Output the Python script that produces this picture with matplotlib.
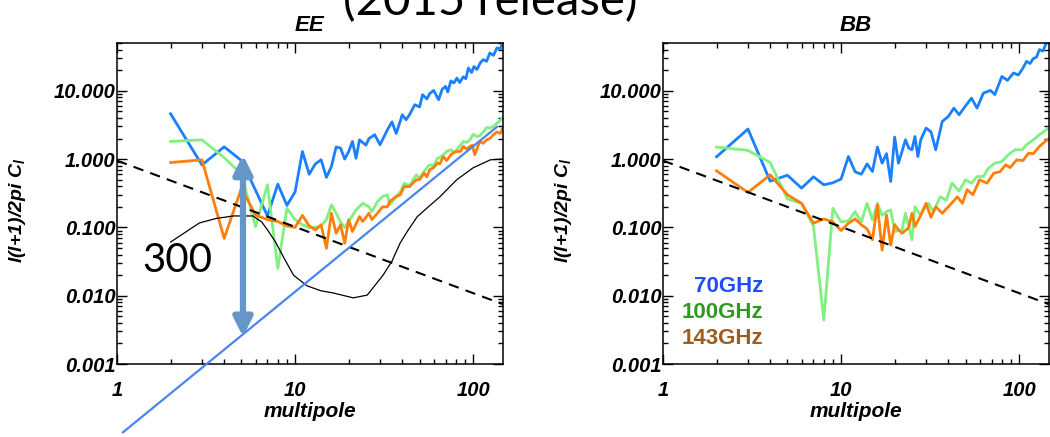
import numpy as np
import matplotlib
matplotlib.use('Agg')
import matplotlib.pyplot as plt
from matplotlib.ticker import FixedLocator, LogLocator, FormatStrFormatter, NullFormatter

plt.rcParams['font.family'] = 'Liberation Sans'
plt.rcParams['font.weight'] = 'bold'
plt.rcParams['font.style'] = 'italic'
plt.rcParams['axes.titleweight'] = 'bold'
plt.rcParams['axes.labelweight'] = 'bold'
plt.rcParams['mathtext.default'] = 'regular'

# --- EE spectra ---
ee_ell_70 = [2, 3, 4, 5, 6, 7, 8, 9, 10, 11, 12, 13, 14, 15, 16, 17, 18, 19, 20, 21, 22, 23,
             25, 26, 28, 30, 33, 35, 37, 40, 42, 44, 47, 50, 52, 55, 57, 60, 64, 67, 70, 72,
             75, 78, 81, 84, 88, 91, 94, 98, 101, 105, 110, 114, 119, 124, 130, 136, 142, 147]
ee_cl_70 = [4.6, 0.82, 1.51, 0.95, 0.35, 0.147, 0.43, 0.21, 0.33, 1.29, 0.6, 0.85, 0.975, 0.54,
            0.78, 1.5, 1.45, 1.0, 1.29, 1.81, 1.03, 1.91, 1.6, 2.0, 2.27, 1.62, 2.68, 3.5, 2.37,
            4.45, 3.76, 4.5, 6.24, 5.8, 8.74, 7.6, 9.1, 10.1, 7.4, 10.5, 11.6, 9.6, 13.9, 13.0,
            15.3, 13.2, 16.0, 15.0, 21.5, 18.5, 22.6, 20.5, 26.0, 28.5, 27.0, 35.7, 33.0, 42.3,
            41.0, 52.0]

ee_ell_100 = [2, 3, 4, 5, 6, 7, 8, 9, 10, 11, 12, 13, 14, 15, 16, 17, 18, 19, 20, 22, 24, 26,
              27, 29, 31, 33, 34, 37, 39, 41, 44, 46, 48, 50, 53, 55, 57, 60, 63, 65, 68, 71,
              75, 78, 81, 85, 88, 92, 96, 100, 105, 109, 114, 119, 124, 130, 136, 141, 147]
ee_cl_100 = [1.81, 1.91, 1.05, 0.6, 0.103, 0.42, 0.025, 0.19, 0.13, 0.109, 0.1, 0.1, 0.105,
             0.13, 0.214, 0.161, 0.12, 0.1, 0.122, 0.18, 0.225, 0.2, 0.17, 0.239, 0.283, 0.3,
             0.214, 0.283, 0.33, 0.444, 0.4, 0.5, 0.588, 0.52, 0.66, 0.75, 0.824, 0.8, 1.03,
             1.05, 1.16, 1.3, 1.37, 1.25, 1.37, 1.6, 1.81, 1.75, 1.91, 2.3, 2.14, 2.2, 2.5, 2.9,
             2.84, 3.0, 3.36, 3.6, 4.1]

ee_ell_143 = [2, 3, 4, 5, 6, 7, 8, 9, 10, 11, 12, 13, 14, 15, 16, 17, 18, 19, 20, 21, 23, 24,
              26, 27, 29, 31, 33, 34, 37, 39, 41, 44, 46, 48, 50, 53, 55, 57, 60, 63, 65, 68,
              71, 75, 78, 81, 85, 88, 92, 96, 99, 102, 106, 109, 114, 119, 124, 130, 136, 142, 147]
ee_cl_143 = [0.89, 0.975, 0.069, 0.375, 0.152, 0.13, 0.122, 0.105, 0.1, 0.15, 0.105, 0.092,
             0.109, 0.0496, 0.161, 0.082, 0.11, 0.0587, 0.129, 0.087, 0.144, 0.122, 0.161, 0.13,
             0.161, 0.2, 0.2, 0.239, 0.283, 0.3, 0.396, 0.396, 0.45, 0.497, 0.5, 0.622, 0.55,
             0.7, 0.75, 0.871, 0.85, 1.09, 0.95, 1.16, 1.25, 1.29, 1.3, 1.53, 1.4, 1.53, 1.6,
             1.16, 1.5, 1.81, 1.7, 1.91, 2.0, 2.27, 2.5, 2.37, 2.9]

# EE theory curve
ee_th_ell = [2, 2.9, 3.6, 4.5, 5.8, 6.5, 7, 7.8, 8.6, 9.8, 11.7, 14, 16.3, 21.2, 25.4, 28,
             31.2, 35, 38.9, 43, 48.5, 56, 65, 81, 100, 125, 146]
ee_th_cl = [0.061, 0.116, 0.135, 0.147, 0.147, 0.12, 0.092, 0.06, 0.037, 0.020, 0.0139, 0.0118,
            0.011, 0.0093, 0.0102, 0.014, 0.020, 0.032, 0.059, 0.09, 0.143, 0.2, 0.28, 0.5,
            0.745, 0.975, 1.0]

# --- BB spectra ---
bb_ell_70 = [2, 3, 4, 5, 6, 7, 8, 9, 10, 11, 12, 13, 14, 15, 16, 17, 18, 19, 20, 21, 23, 24,
             25, 26, 27, 28, 30, 32, 34, 37, 40, 43, 46, 50, 54, 58, 63, 69, 73, 80, 86, 93, 99,
             105, 110, 115, 120, 125, 130, 136, 142, 147]
bb_cl_70 = [1.08, 2.75, 0.475, 0.58, 0.375, 0.55, 0.42, 0.45, 0.51, 1.09, 0.65, 0.6, 0.85,
            0.657, 1.5, 0.87, 1.2, 0.47, 2.1, 0.87, 1.91, 1.45, 1.37, 2.14, 1.09, 1.9, 2.84, 2.5,
            1.37, 3.55, 4.2, 5.57, 4.45, 6.0, 7.8, 5.57, 9.25, 10.1, 8.8, 16.2, 14.2, 18.2, 17.0,
            21.5, 26.9, 25.0, 29.6, 31.0, 40.0, 38.0, 50.0, 55.0]

bb_ell_100 = [2, 3, 4, 5, 6, 7, 8, 9, 10, 11, 12, 13, 14, 15, 16, 17, 18, 19, 20, 22, 23, 25,
              26, 28, 29, 31, 33, 34, 36, 39, 42, 46, 50, 54, 58, 63, 67, 73, 80, 87, 95, 104,
              110, 120, 130, 142, 147]
bb_cl_100 = [1.5, 1.34, 0.89, 0.26, 0.225, 0.105, 0.0044, 0.19, 0.12, 0.125, 0.17, 0.12, 0.225,
             0.129, 0.225, 0.15, 0.17, 0.18, 0.087, 0.092, 0.161, 0.066, 0.2, 0.15, 0.18, 0.225,
             0.17, 0.2, 0.28, 0.25, 0.444, 0.34, 0.497, 0.444, 0.555, 0.555, 0.73, 0.87, 0.92,
             1.16, 1.37, 1.37, 1.62, 1.91, 2.27, 2.68, 2.9]

bb_ell_143 = [2, 3, 4, 5, 6, 7, 8, 9, 10, 11, 12, 13, 14, 15, 16, 17, 18, 19, 20, 21, 22, 23,
              24, 25, 26, 28, 30, 32, 34, 37, 41, 45, 48, 51, 55, 60, 66, 72, 78, 84, 89, 97,
              105, 113, 120, 130, 140, 147]
bb_cl_143 = [0.673, 0.324, 0.588, 0.3, 0.225, 0.115, 0.133, 0.12, 0.09, 0.115, 0.133, 0.109,
             0.095, 0.066, 0.214, 0.0464, 0.152, 0.055, 0.11, 0.092, 0.082, 0.09, 0.1, 0.161,
             0.103, 0.15, 0.225, 0.14, 0.2, 0.161, 0.214, 0.28, 0.225, 0.356, 0.3, 0.497, 0.444,
             0.622, 0.65, 0.824, 0.75, 0.975, 0.95, 1.22, 1.2, 1.53, 1.81, 2.0]

# noise power law (dashed) and the annotation line
noise_ell = [1, 147]
noise_cl = [0.95, 0.0075]
slope_ell = [1.08, 136]
slope_cl = [1.0e-4, 2.96]
arrow_ell = 5.1
arrow_top, arrow_bottom = 1.15, 0.0025

bands = ['70GHz', '100GHz', '143GHz']
line_colors = ['#1a80ff', '#80f080', '#ff7f0a']
text_colors = ['#1f4cff', '#2f9a1f', '#9a5c1f']

fig = plt.figure(figsize=(10.5, 4.37), dpi=100)
ax_ee = fig.add_axes([0.1114, 0.167, 0.3676, 0.7346])
ax_bb = fig.add_axes([0.6314, 0.167, 0.3676, 0.7346])


def style_axes(ax, title):
    ax.set_xscale('log')
    ax.set_yscale('log')
    ax.set_xlim(1, 147)
    ax.set_ylim(0.001, 50)
    ax.xaxis.set_major_locator(FixedLocator([1, 10, 100]))
    ax.xaxis.set_major_formatter(FormatStrFormatter('%d'))
    ax.xaxis.set_minor_locator(LogLocator(base=10, subs=np.arange(2, 10)))
    ax.xaxis.set_minor_formatter(NullFormatter())
    ax.yaxis.set_major_locator(FixedLocator([0.001, 0.01, 0.1, 1, 10]))
    ax.yaxis.set_major_formatter(FormatStrFormatter('%.3f'))
    ax.yaxis.set_minor_locator(LogLocator(base=10, subs=np.arange(2, 10), numticks=20))
    ax.yaxis.set_minor_formatter(NullFormatter())
    ax.tick_params(which='both', direction='in', top=True, right=True, width=1)
    ax.tick_params(which='major', length=7)
    ax.tick_params(which='minor', length=3.5)
    ax.tick_params(axis='y', labelsize=14.5, pad=1)
    ax.tick_params(axis='x', labelsize=14.5, pad=12)
    for sp in ax.spines.values():
        sp.set_linewidth(1.1)
    ax.set_title(title, fontsize=16, pad=9, fontweight='bold')
    ax.set_xlabel('multipole', fontsize=15, labelpad=2, fontweight='bold')
    ax.set_ylabel('l(l+1)/2pi C$_l$', fontsize=14, fontweight='bold')
    ax.yaxis.set_label_coords(-0.23, 0.48)


style_axes(ax_ee, 'EE')
style_axes(ax_bb, 'BB')

# EE panel
ax_ee.plot(ee_ell_70, ee_cl_70, color=line_colors[0], lw=2)
ax_ee.plot(ee_ell_100, ee_cl_100, color=line_colors[1], lw=2)
ax_ee.plot(ee_ell_143, ee_cl_143, color=line_colors[2], lw=2)
ax_ee.plot(ee_th_ell, ee_th_cl, color='black', lw=0.9)
ax_ee.plot(noise_ell, noise_cl, color='black', lw=1.5, ls=(0, (5, 3.5)))
ax_ee.plot(slope_ell, slope_cl, color='#4a84ee', lw=1.6, clip_on=False, zorder=5)
ax_ee.annotate('', xy=(arrow_ell, arrow_bottom), xytext=(arrow_ell, arrow_top),
               arrowprops=dict(arrowstyle='<|-|>,head_length=1.1,head_width=0.55',
                               color='#6696c8', lw=4.5, shrinkA=0, shrinkB=0),
               zorder=6)
ax_ee.text(0.157, 0.324, '300', transform=ax_ee.transAxes, ha='center', va='center',
           fontsize=29, family='Lato', style='normal', weight='normal', zorder=7)

# BB panel
ax_bb.plot(bb_ell_70, bb_cl_70, color=line_colors[0], lw=2)
ax_bb.plot(bb_ell_100, bb_cl_100, color=line_colors[1], lw=2)
ax_bb.plot(bb_ell_143, bb_cl_143, color=line_colors[2], lw=2)
ax_bb.plot(noise_ell, noise_cl, color='black', lw=1.5, ls=(0, (5, 3.5)))

label_y = [0.243, 0.159, 0.081]
for name, col, yy in zip(bands, text_colors, label_y):
    ax_bb.text(0.259, yy, name, transform=ax_bb.transAxes, ha='right', va='center',
               color=col, fontsize=16, style='normal', weight='bold')

fig.text(0.467, 1 - 15 / 437, '(2015 release)', ha='center', va='baseline',
         fontsize=34, family='Lato', style='normal', weight='normal')

fig.savefig('out.png', dpi=100, facecolor='white')
